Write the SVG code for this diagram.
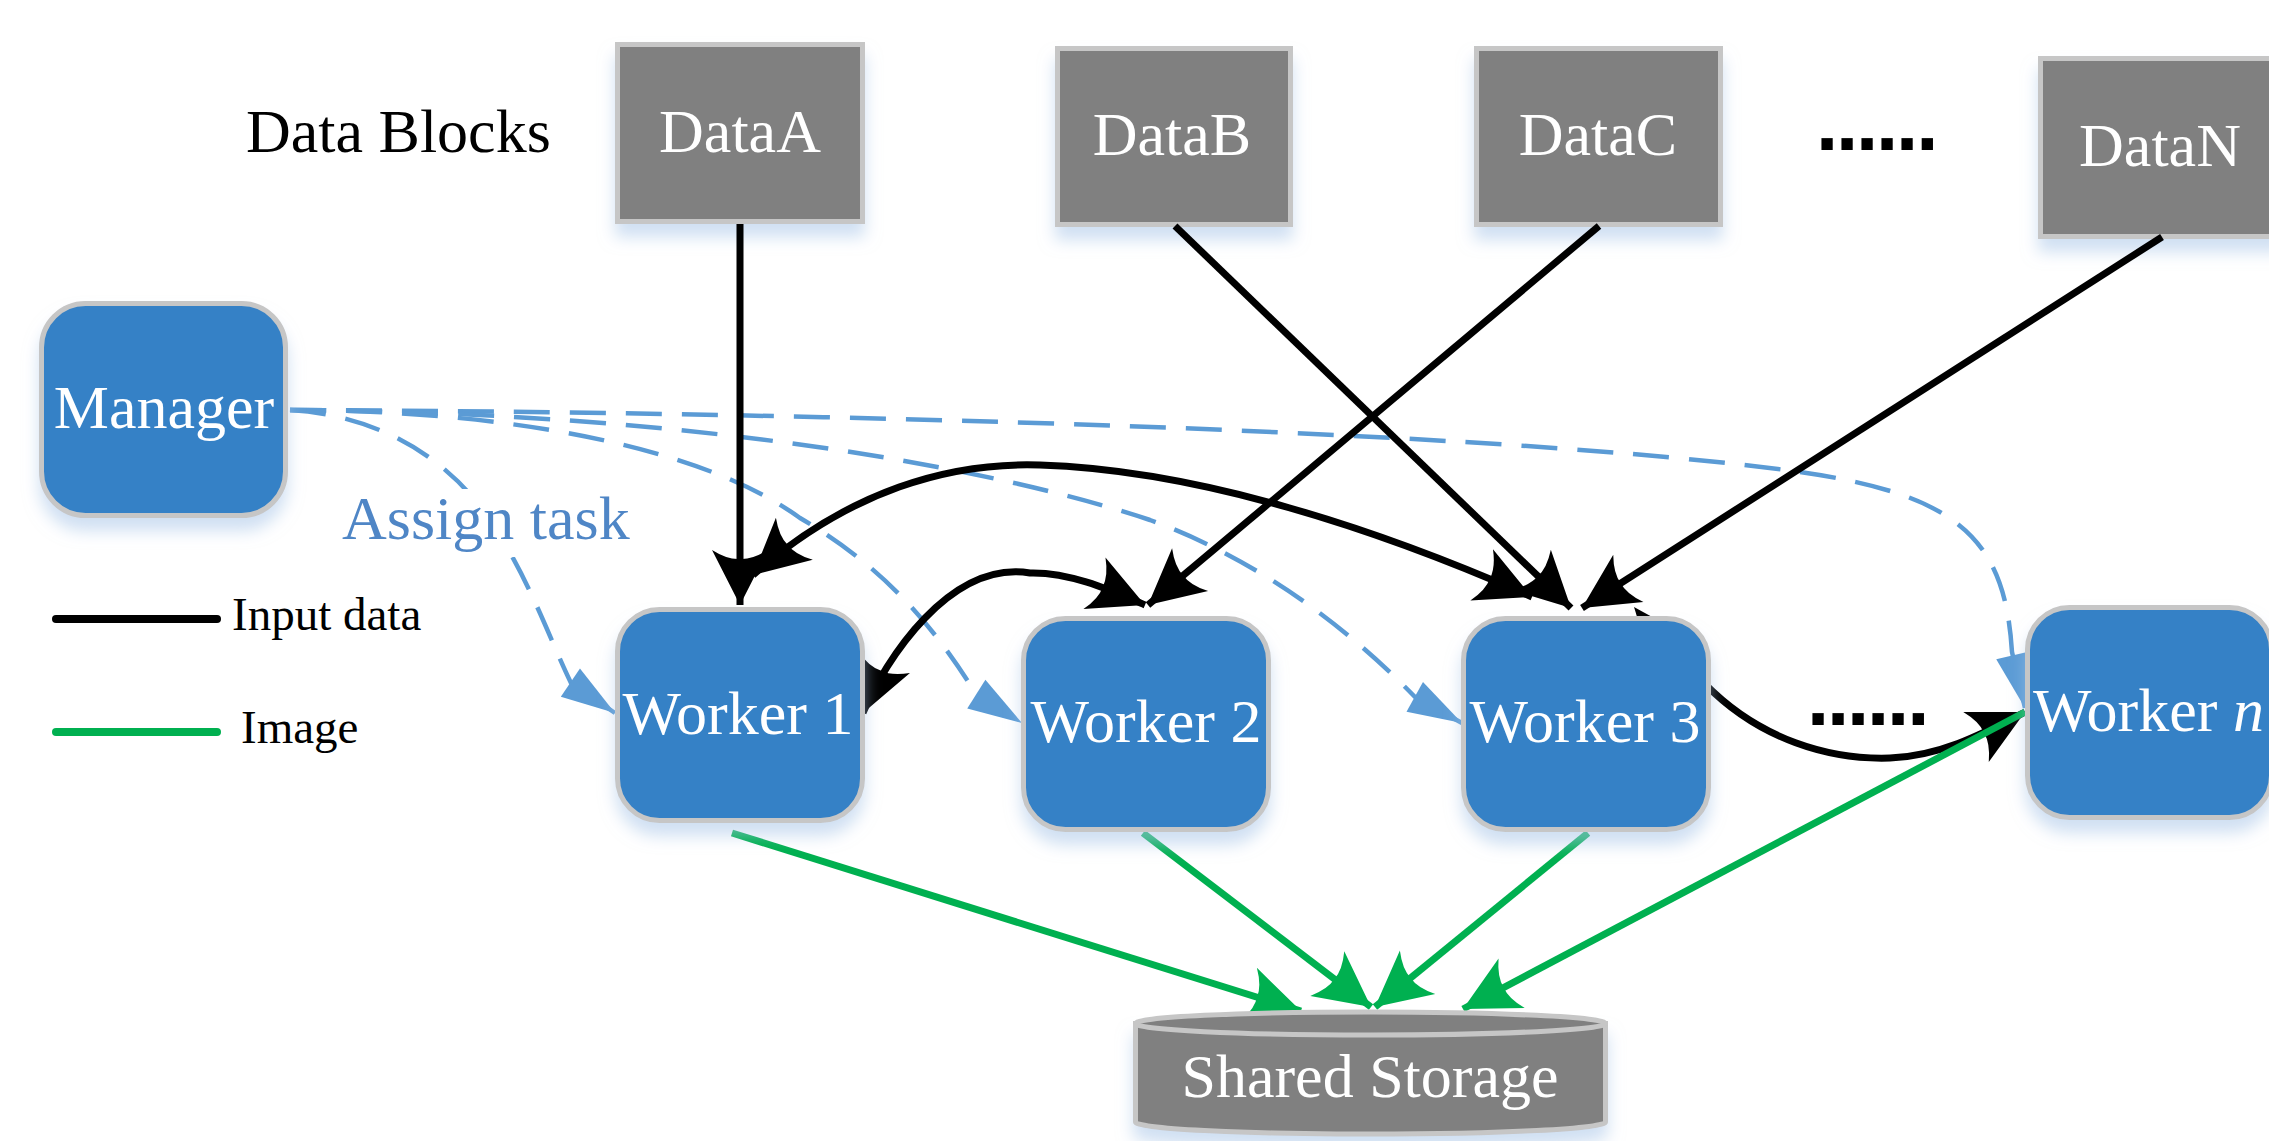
<svg xmlns="http://www.w3.org/2000/svg" width="2269" height="1141" viewBox="0 0 2269 1141">
<style>
text{font-family:"Liberation Serif","Times New Roman",serif;}
.lbl{font-size:62px;fill:#fff;text-anchor:middle;}
.node{stroke:#c6c6c6;stroke-width:5;}
.blue{fill:#3581c6;}
.gray{fill:#808080;}
.dash{fill:none;stroke:#5b9bd5;stroke-width:4.5;stroke-dasharray:36 20;marker-end:url(#mb);}
.blk{fill:none;stroke:#000;stroke-width:7;}
.grn{fill:none;stroke:#00b050;stroke-width:7;marker-end:url(#mg);}
.dots{font-family:"Liberation Sans",Arial,sans-serif;font-size:80px;font-weight:bold;fill:#000;letter-spacing:-2.2px;}
.leg{font-size:47px;fill:#000;}
</style>
<defs>
<filter id="sh" x="-20%" y="-20%" width="140%" height="160%">
<feGaussianBlur in="SourceAlpha" stdDeviation="8"/>
<feOffset dy="13" result="b"/>
<feFlood flood-color="#a9c6e8" flood-opacity="0.55"/>
<feComposite in2="b" operator="in"/>
<feMerge><feMergeNode/><feMergeNode in="SourceGraphic"/></feMerge>
</filter>
<marker id="mk" viewBox="-60 -32 64 64" markerWidth="64" markerHeight="64" refX="0" refY="0" orient="auto-start-reverse" markerUnits="userSpaceOnUse" overflow="visible">
<path d="M0,0 L-55,-28 Q-45,-12 -46,0 Q-45,12 -55,28 Z" fill="#000"/>
</marker>
<marker id="mg" viewBox="-60 -32 64 64" markerWidth="64" markerHeight="64" refX="0" refY="0" orient="auto" markerUnits="userSpaceOnUse" overflow="visible">
<path d="M0,0 L-55,-28 Q-45,-12 -46,0 Q-45,12 -55,28 Z" fill="#00b050"/>
</marker>
<marker id="mb" viewBox="-60 -32 64 64" markerWidth="64" markerHeight="64" refX="0" refY="0" orient="auto" markerUnits="userSpaceOnUse" overflow="visible">
<path d="M0,0 L-54,-17 L-54,17 Z" fill="#5b9bd5"/>
</marker>
</defs>
<rect width="2269" height="1141" fill="#fff"/>

<g id="title">
<text x="246" y="152" style="font-size:62px;fill:#000">Data Blocks</text>
</g>

<g id="dataA"><rect class="node gray" x="617.5" y="44.5" width="245" height="177" filter="url(#sh)"/><text class="lbl" x="740" y="152">DataA</text></g>
<g id="dataB"><rect class="node gray" x="1057.5" y="48.5" width="233" height="176" filter="url(#sh)"/><text class="lbl" x="1172" y="155">DataB</text></g>
<g id="dataC"><rect class="node gray" x="1476.5" y="48.5" width="244" height="176" filter="url(#sh)"/><text class="lbl" x="1598" y="155">DataC</text></g>
<g id="dataDots"><text class="dots" x="1816" y="150">......</text></g>
<g id="dataN"><rect class="node gray" x="2040.5" y="58.5" width="241" height="178" filter="url(#sh)"/><text class="lbl" x="2160" y="166">DataN</text></g>

<g id="connectors">
<g id="assign">
<path class="dash" d="M290 410 C800 412 1500 430 1800 472 C1960 495 2005 540 2012 652 L2025 708"/>
<path class="dash" d="M290 410 C700 412 1000 470 1150 520 C1260 560 1350 630 1415 697 L1462 723"/>
<path class="dash" d="M290 410 C500 410 700 445 800 518 C880 565 930 620 976 694 L1022 723"/>
<path class="dash" d="M290 410 C380 415 450 460 490 520 C530 580 550 640 571 683 L615 713"/>
</g>
<g id="input">
<path class="blk" d="M740 224 L740 605" marker-end="url(#mk)"/>
<path class="blk" d="M1175 226 L1571 608" marker-end="url(#mk)"/>
<path class="blk" d="M1599 226 L1148 605" marker-end="url(#mk)"/>
<path class="blk" d="M2162 237 L1582 608" marker-end="url(#mk)"/>
<path class="blk" d="M753 575 C850 490 950 462 1040 465 C1200 470 1380 530 1532 597" marker-start="url(#mk)" marker-end="url(#mk)"/>
<path class="blk" d="M863 713 C885 660 950 560 1030 573 C1070 572 1110 590 1145 605" marker-start="url(#mk)" marker-end="url(#mk)"/>
<path class="blk" d="M1705 684 C1760 740 1830 760 1890 758 C1940 756 1980 735 2025 712" marker-end="url(#mk)"/>
<polygon points="1634,607 1654,618 1638,620" fill="#000"/>
</g>
<g id="image">
<path class="grn" d="M732 833 L1301 1011"/>
<path class="grn" d="M1143 833 L1371 1007"/>
<path class="grn" d="M1588 833 L1375 1007"/>
<path class="grn" d="M2025 712 L1463 1009"/>
</g>
</g>

<g id="label-assign">
<rect x="338" y="489" width="300" height="68" fill="#fff"/>
<text x="342" y="539" style="font-size:62px;fill:#4f86c6">Assign task</text>
</g>

<g id="manager"><rect class="node blue" x="41.5" y="303.5" width="244" height="212" rx="44" filter="url(#sh)"/><text class="lbl" x="164" y="428">Manager</text></g>

<g id="worker1"><rect class="node blue" x="617.5" y="609.5" width="245" height="211" rx="42" filter="url(#sh)"/><text class="lbl" x="738" y="734">Worker 1</text></g>
<g id="worker2"><rect class="node blue" x="1023.5" y="618.5" width="245" height="211" rx="42" filter="url(#sh)"/><text class="lbl" x="1146" y="742">Worker 2</text></g>
<g id="worker3"><rect class="node blue" x="1463.5" y="618.5" width="245" height="211" rx="42" filter="url(#sh)"/><text class="lbl" x="1585" y="742">Worker 3</text></g>
<g id="workerDots"><text class="dots" x="1807" y="725">......</text></g>
<g id="workerN"><rect class="node blue" x="2027.5" y="607.5" width="244" height="210" rx="42" filter="url(#sh)"/><text x="2033" y="731" style="font-size:62px;fill:#fff">Worker <tspan font-style="italic">n</tspan></text></g>

<g id="storage">
<path class="node gray" d="M1135.5 1023.5 L1135.5 1122 A235 12 0 0 0 1605.5 1122 L1605.5 1023.5 Z" filter="url(#sh)"/>
<ellipse class="node gray" cx="1370.5" cy="1023.5" rx="235" ry="11.5"/>
<text class="lbl" x="1370" y="1097">Shared Storage</text>
</g>

<g id="legend">
<line x1="56" y1="619" x2="217" y2="619" stroke="#000" stroke-width="8" stroke-linecap="round"/>
<text class="leg" x="232" y="630">Input data</text>
<line x1="56" y1="732" x2="217" y2="732" stroke="#00b050" stroke-width="8" stroke-linecap="round"/>
<text class="leg" x="241" y="743">Image</text>
</g>
</svg>
